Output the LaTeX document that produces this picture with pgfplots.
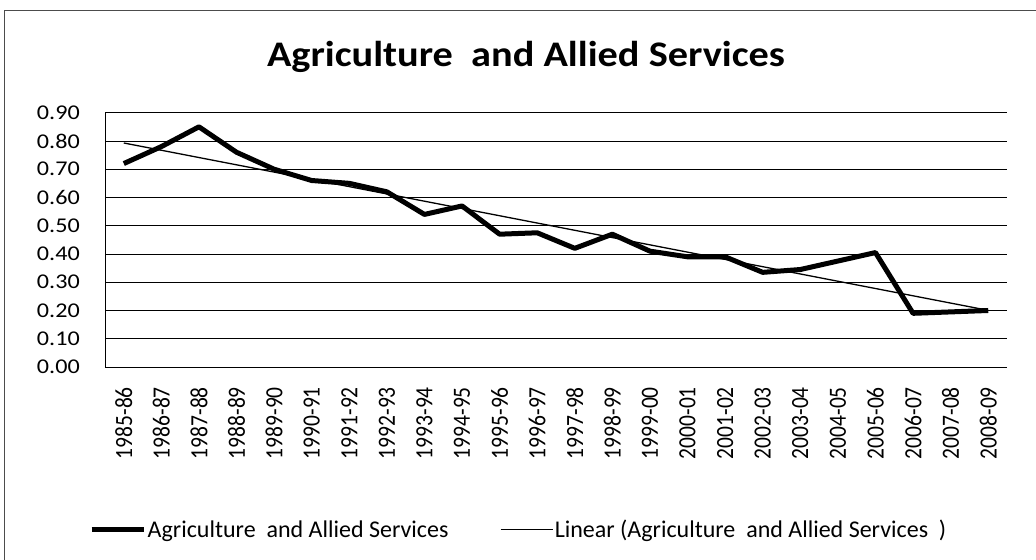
\documentclass[border=0pt]{standalone}
\usepackage{fontspec}
\setmainfont{Carlito}
\usepackage{pgfplots}
\usepackage{pgfplotstable}
\pgfplotsset{compat=1.18}
\pgfplotstableread{
x y
0 0.72
1 0.78
2 0.85
3 0.76
4 0.70
5 0.66
6 0.65
7 0.62
8 0.54
9 0.57
10 0.47
11 0.475
12 0.42
13 0.47
14 0.41
15 0.39
16 0.39
17 0.335
18 0.345
19 0.375
20 0.405
21 0.19
22 0.195
23 0.20
}\datatable
\begin{document}
\begin{tikzpicture}
\path[use as bounding box] (-105bp,-193bp) rectangle (931bp,367bp);
\draw[black!70, line width=0.8bp] (-101bp,-193bp) -- (-101bp,357bp) -- (931bp,357bp);
\node[anchor=base, xscale=1.12, font=\fontsize{36bp}{44bp}\selectfont\bfseries] at (421bp,300bp) {Agriculture\ \ and Allied Services};
\begin{axis}[
  scale only axis,
  width=902bp, height=254.3bp,
  xmin=-0.5, xmax=23.5, ymin=0, ymax=0.9,
  axis x line*=bottom, axis y line*=left,
  axis line style={-, black, line width=0.8bp},
  ytick={0,0.1,...,0.9},
  xtick={0,1,...,23},
  xticklabels={1985-86,1986-87,1987-88,1988-89,1989-90,1990-91,1991-92,1992-93,1993-94,1994-95,1995-96,1996-97,1997-98,1998-99,1999-00,2000-01,2001-02,2002-03,2003-04,2004-05,2005-06,2006-07,2007-08,2008-09},
  tick style={draw=none},
  ymajorgrids,
  grid style={black, line width=0.8bp},
  /pgf/number format/assume math mode=true,
  yticklabel={\pgfmathprintnumber[fixed, fixed zerofill, precision=2]{\tick}},
  yticklabel style={font=\fontsize{21bp}{25bp}\selectfont, xscale=1.15, inner sep=0pt, anchor=east},
  yticklabel shift=25bp,
  xticklabel style={font=\fontsize{21.5bp}{25bp}\selectfont, rotate=90, yscale=1.15, anchor=east, inner sep=0pt},
  xticklabel shift=20bp,
  legend columns=2,
  legend style={at={(-0.0177,-0.64)}, anchor=west, draw=none, fill=none, inner sep=0pt,
    nodes={inner sep=1.5bp, anchor=west, font=\fontsize{24bp}{28bp}\selectfont},
    /tikz/every even column/.append style={column sep=50bp}},
  legend image code/.code={\draw[#1] (0bp,0bp) -- (52bp,0bp);},
]
\addplot[black, line width=5bp, line join=round] table[x=x, y=y] {\datatable};
\addlegendentry{Agriculture\ \ and Allied Services}
\addplot[black, line width=1.3bp] table[x=x, y={create col/linear regression={y=y}}] {\datatable};
\addlegendentry{Linear (Agriculture\ \ and Allied Services\ \ )}
\end{axis}
\end{tikzpicture}
\end{document}
